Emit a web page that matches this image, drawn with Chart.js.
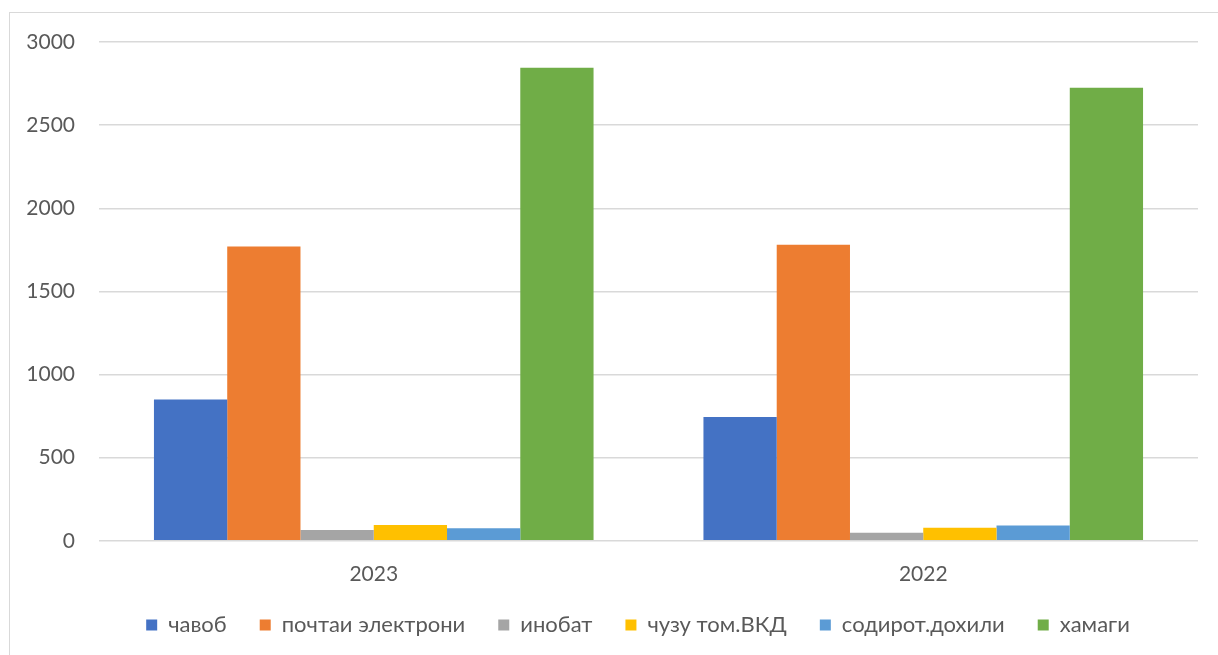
<!DOCTYPE html>
<html lang="tg">
<head>
  <meta charset="UTF-8">
  <title>2023 / 2022</title>
  <script src="https://cdn.jsdelivr.net/npm/chart.js@4.4.0/dist/chart.umd.min.js"></script>
  <style>
    body { margin: 0; background: #fff; overflow: hidden; }
    #frame { position: absolute; left: 9px; top: 12px; width: 1240px; height: 680px; border: 1px solid #d9d9d9; }
    #wrap { position: absolute; left: 0; top: 0; width: 1218px; height: 655px; }
  </style>
</head>
<body>
  <div id="frame"></div>
  <div id="wrap"><canvas id="chart"></canvas></div>
  <script>
    // categories (years) and series
    var years = ['2023', '2022'];
    var seriesNames = ['чавоб', 'почтаи электрони', 'инобат', 'чузу том.ВКД', 'содирот.дохили', 'хамаги'];
    var javob = [850, 745];
    var pochta = [1770, 1780];
    var inobat = [65, 48];
    var chuzu = [95, 78];
    var sodirot = [75, 92];
    var hamagi = [2845, 2725];
    var yTicks = [0, 500, 1000, 1500, 2000, 2500, 3000];

    var colors = ['#4472c4', '#ed7d31', '#a5a5a5', '#ffc000', '#5b9bd5', '#70ad47'];
    var values = [javob, pochta, inobat, chuzu, sodirot, hamagi];

    var datasets = [];
    for (var i = 0; i < seriesNames.length; i++) {
      datasets.push({
        label: seriesNames[i],
        data: values[i],
        backgroundColor: colors[i],
        borderWidth: 0,
        categoryPercentage: 0.8,
        barPercentage: 1.0
      });
    }

    // legend sits centred under the plot area, not the whole canvas
    var legendShift = {
      id: 'legendShift',
      afterLayout: function (chart) {
        chart.legend.left += 39;
        chart.legend.right += 39;
      }
    };

    var font = "Lato, 'Noto Sans', sans-serif";
    new Chart(document.getElementById('chart'), {
      type: 'bar',
      data: { labels: years, datasets: datasets },
      plugins: [legendShift],
      options: {
        responsive: true,
        maintainAspectRatio: false,
        animation: false,
        layout: { padding: { top: 42, right: 20, bottom: 9, left: 0 } },
        plugins: {
          legend: {
            position: 'bottom',
            labels: {
              boxWidth: 11, boxHeight: 11, padding: 33,
              color: '#595959',
              font: { family: font, size: 22 }
            }
          },
          tooltip: { enabled: false }
        },
        scales: {
          x: {
            afterFit: function (s) { s.height -= 19; },
            grid: { display: false },
            border: { display: false },
            ticks: { color: '#595959', padding: 13, font: { family: font, size: 21 } }
          },
          y: {
            min: 0, max: 3000,
            afterFit: function (s) { s.width = 99; },
            afterBuildTicks: function (s) { s.ticks = yTicks.map(function (v) { return { value: v }; }); },
            grid: { color: '#d9d9d9', lineWidth: 1.5, drawTicks: false },
            border: { display: false },
            ticks: {
              color: '#595959', padding: 24, font: { family: font, size: 21 },
              callback: function (v) { return String(v); }
            }
          }
        }
      }
    });
  </script>
</body>
</html>
